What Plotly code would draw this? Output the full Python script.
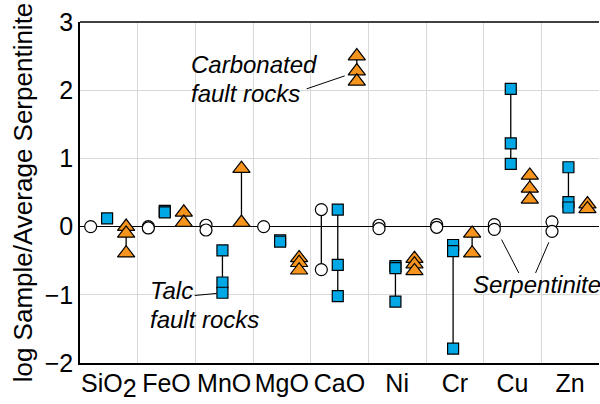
import plotly.graph_objects as go

categories = ["SiO<sub><span style='font-size:25px'>2</span></sub>", "FeO", "MnO", "MgO", "CaO", "Ni", "Cr", "Cu", "Zn"]

serpentinite = [
    [0.0], [0.0, -0.02], [0.02, -0.05], [0.0], [0.25, -0.63],
    [0.02, -0.03], [0.03, -0.01], [0.03, -0.04], [0.07, -0.07],
]
talc = [
    [0.12], [0.23, 0.21], [-0.35, -0.82, -0.97], [-0.2, -0.22], [0.25, -0.56, -1.02],
    [-0.58, -0.61, -1.1], [-0.27, -0.36, -1.79], [2.02, 1.22, 0.92], [0.87, 0.36, 0.28],
]
carbonated = [
    [0.0, -0.1, -0.39], [0.21, 0.06], [0.85, 0.06], [-0.46, -0.53, -0.64], [2.5, 2.28, 2.13],
    [-0.47, -0.55, -0.65], [-0.1, -0.39], [0.75, 0.56, 0.40], [0.33, 0.26],
]

offsets = {"serp": 0.185, "talc": 0.47, "carb": 0.80}

def build(groups, off):
    xs, ys = [], []
    for i, vals in enumerate(groups):
        for v in vals:
            xs.append(i + off)
            ys.append(v)
        xs.append(None)
        ys.append(None)
    return xs, ys

BLUE = "#00A9E6"
ORANGE = "#F7941D"

fig = go.Figure()
for groups, key, sym, color, size in [
    (serpentinite, "serp", "circle", "white", 12),
    (talc, "talc", "square", BLUE, 11),
    (carbonated, "carb", "triangle-up", ORANGE, 15),
]:
    xs, ys = build(groups, offsets[key])
    fig.add_trace(go.Scatter(
        x=xs, y=ys, mode="lines+markers", connectgaps=False,
        line=dict(color="black", width=1.3),
        marker=dict(symbol=sym, size=size, color=color, line=dict(color="black", width=1.2)),
        showlegend=False, hoverinfo="skip",
    ))

font = "Liberation Sans, Arial, Helvetica, sans-serif"

fig.update_layout(
    width=600, height=404,
    margin=dict(l=80, r=1, t=22, b=41, autoexpand=False),
    plot_bgcolor="white", paper_bgcolor="white",
    font=dict(family=font, size=25, color="black"),
    xaxis=dict(
        range=[0, 9], tickmode="array",
        tickvals=[i + 0.5 for i in range(len(categories))], ticktext=categories,
        showgrid=False, ticks="", showline=True, linecolor="black", linewidth=1.5,
        zeroline=False, tickfont=dict(size=25), automargin=False, ticklabelstandoff=-3,
        minor=dict(tickmode="linear", tick0=0, dtick=1, showgrid=True, gridcolor="#d9d9d9", gridwidth=1, ticks=""),
    ),
    yaxis=dict(
        range=[-2, 3], dtick=1, showgrid=True, gridcolor="#d9d9d9", gridwidth=1,
        zeroline=True, zerolinecolor="black", zerolinewidth=1.3,
        showline=True, linecolor="black", linewidth=1.5, ticks="",
        tickfont=dict(size=25), automargin=False,
        title=dict(text="log Sample/Average Serpentinite", font=dict(size=26), standoff=5),
    ),
)

fig.add_shape(type="line", xref="paper", yref="paper", x0=0, x1=1, y0=1, y1=1,
              line=dict(color="black", width=1.5))

def ann(x, y, text):
    fig.add_annotation(x=x, y=y, xref="x", yref="y", text="<i>" + text + "</i>",
                       showarrow=False, xanchor="left", yanchor="middle",
                       font=dict(size=24, color="black"))

ann(1.89, 2.37, "Carbonated")
ann(1.89, 1.95, "fault rocks")
ann(1.18, -0.94, "Talc")
ann(1.18, -1.36, "fault rocks")
ann(6.78, -0.85, "Serpentinite")

for x0, y0, x1, y1 in [(3.93, 2.02, 4.59, 2.21), (1.99, -1.01, 2.37, -0.98),
                       (7.31, -0.19, 7.61, -0.68), (8.13, -0.23, 7.90, -0.68)]:
    fig.add_shape(type="line", xref="x", yref="y", x0=x0, y0=y0, x1=x1, y1=y1,
                  line=dict(color="black", width=1))

fig.write_html("out.html", config={"displayModeBar": False},
               post_script="document.body.style.margin='0';document.body.style.padding='0';")
